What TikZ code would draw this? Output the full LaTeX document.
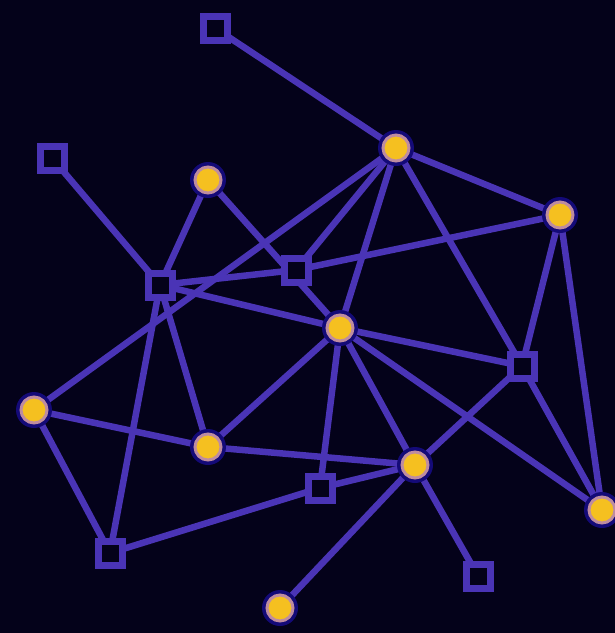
\documentclass[tikz,border=0pt]{standalone}
\usetikzlibrary{backgrounds}
\definecolor{bgnavy}{RGB}{4,2,26}
\definecolor{edgepurple}{RGB}{74,52,182}
\definecolor{nodeyellow}{RGB}{245,192,32}
\definecolor{halopink}{RGB}{190,140,160}
\definecolor{haloblue}{RGB}{20,10,120}
\tikzset{
  filled/.style={circle, minimum size=26pt, inner sep=0pt, fill=nodeyellow, draw=halopink, line width=3pt},
  hollow/.style={rectangle, minimum size=24pt, inner sep=0pt, fill=bgnavy, draw=edgepurple, line width=7pt},
  link/.style={draw=edgepurple, line width=6.5pt},
}
\begin{document}
\begin{tikzpicture}[x=1pt,y=-1pt]
\fill[bgnavy] (0,0) rectangle (615,633);
\useasboundingbox (0,0) rectangle (615,633);
% node positions
\coordinate (pA) at (396,148);
\coordinate (pB) at (208,180);
\coordinate (pC) at (560,215);
\coordinate (pD) at (340,328);
\coordinate (pE) at (34,410);
\coordinate (pF) at (208,447);
\coordinate (pG) at (415,465);
\coordinate (pH) at (602,510);
\coordinate (pI) at (280,608);
\coordinate (pa) at (215,28);
\coordinate (pb) at (52,158);
\coordinate (pc) at (522,366);
\coordinate (pd) at (110,553);
\coordinate (pe) at (478,576);
\coordinate (px1) at (160,285);
\coordinate (px2) at (296,270);
\coordinate (px3) at (320,488);
% edges
\draw[link] (pa) -- (pA);
\draw[link] (pA) -- (pC);
\draw[link] (pA) -- (pc);
\draw[link] (pA) -- (pD);
\draw[link] (pA) -- (pE);
\draw[link] (pA) -- (px2);
\draw[link] (pC) -- (px2);
\draw[link] (px2) -- (px1);
\draw[link] (pC) -- (pc);
\draw[link] (pC) -- (pH);
\draw[link] (pc) -- (pH);
\draw[link] (pc) -- (pG);
\draw[link] (pD) -- (pc);
\draw[link] (pD) -- (pH);
\draw[link] (pD) -- (pG);
\draw[link] (pD) -- (px3);
\draw[link] (pD) -- (pF);
\draw[link] (pD) -- (px1);
\draw[link] (pB) -- (pD);
\draw[link] (pB) -- (px1);
\draw[link] (pb) -- (px1);
\draw[link] (px1) -- (pF);
\draw[link] (px1) -- (pd);
\draw[link] (pE) -- (pF);
\draw[link] (pE) -- (pd);
\draw[link] (pd) -- (px3);
\draw[link] (pF) -- (pG);
\draw[link] (px3) -- (pG);
\draw[link] (pG) -- (pI);
\draw[link] (pG) -- (pe);
% nodes
\foreach \n in {pa,pb,pc,pd,pe,px1,px2,px3} {
  \node[hollow] (\n n) at (\n) {};
}
\foreach \n in {pA,pB,pC,pD,pE,pF,pG,pH,pI} {
  \fill[haloblue] (\n) circle (18pt);
  \node[filled] (\n n) at (\n) {};
}
\end{tikzpicture}
\end{document}
